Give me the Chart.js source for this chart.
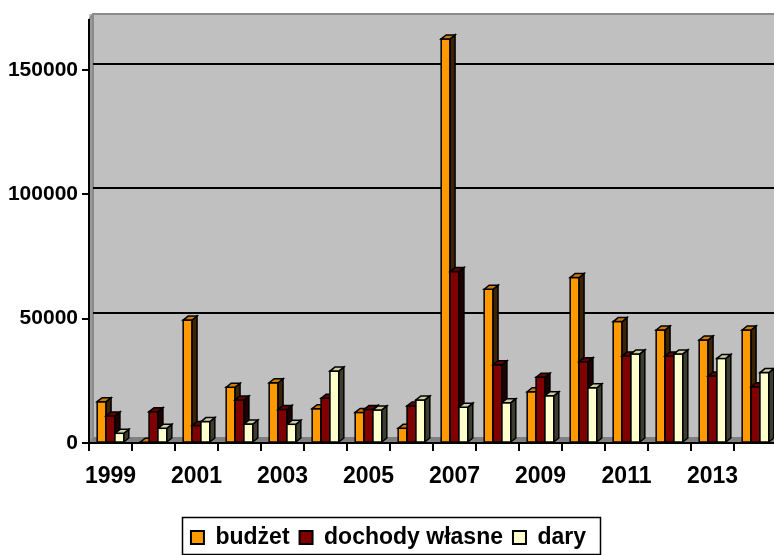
<!DOCTYPE html>
<html>
<head>
<meta charset="utf-8">
<script src="https://cdn.jsdelivr.net/npm/chart.js@4/dist/chart.umd.min.js"></script>
<style>
html,body{margin:0;padding:0;background:#fff;overflow:hidden;}
canvas{display:block;}
</style>
</head>
<body>
<canvas id="c" width="780" height="559" style="width:780px;height:559px"></canvas>
<script>
const categories = ['1999','2000','2001','2002','2003','2004','2005','2006','2007','2008','2009','2010','2011','2012','2013','2014'];
const budzet  = [16600, 300, 49400, 22400, 24200, 13800, 12300, 5900, 162400, 61800, 20600, 66500, 48800, 45400, 41400, 45400];
const dochody = [10900, 12600, 7000, 17300, 13500, 18000, 13500, 14900, 68900, 31400, 26400, 32700, 35000, 35000, 26900, 22600];
const dary    = [3900, 5900, 8600, 7600, 7500, 28900, 13300, 17300, 14400, 16200, 19000, 22200, 35800, 35800, 34000, 28300];
const yTicks  = [0, 50000, 100000, 150000];
const seriesNames = ['budżet', 'dochody własne', 'dary'];

const fronts = ['#FF9900', '#800000', '#FFFFCC'];
const tops   = ['#CC7A00', '#660000', '#CCCCA3'];
const sides  = ['#3D2400', '#1F0000', '#3D3D30'];

const WDX = 4, WDY = 6;   // wall depth
const BDX = 5, BDY = 4;   // bar depth
const FONT = "'Liberation Sans', Arial, sans-serif";

const threeD = {
  id: 'threeD',
  beforeDraw(chart) {
    const {ctx, chartArea: a} = chart;
    ctx.save();
    ctx.fillStyle = '#C0C0C0';
    ctx.fillRect(a.left, a.top - WDY, chart.width - a.left, a.bottom - a.top + WDY);
    ctx.fillStyle = '#9A9A9A';
    ctx.beginPath();
    ctx.moveTo(a.left, a.top);
    ctx.lineTo(a.left + WDX, a.top - WDY);
    ctx.lineTo(a.left + WDX, a.bottom - WDY);
    ctx.lineTo(a.left, a.bottom);
    ctx.closePath();
    ctx.fill();
    ctx.fillStyle = '#808080';
    ctx.beginPath();
    ctx.moveTo(a.left, a.bottom);
    ctx.lineTo(a.left + WDX, a.bottom - WDY);
    ctx.lineTo(chart.width, a.bottom - WDY);
    ctx.lineTo(chart.width, a.bottom);
    ctx.closePath();
    ctx.fill();
    ctx.strokeStyle = '#8A8A8A';
    ctx.lineWidth = 2;
    ctx.beginPath();
    ctx.moveTo(a.left, a.top);
    ctx.lineTo(a.left + WDX, a.top - WDY);
    ctx.lineTo(chart.width, a.top - WDY);
    ctx.stroke();
    ctx.beginPath();
    ctx.moveTo(a.left + WDX, a.top - WDY);
    ctx.lineTo(a.left + WDX, a.bottom - WDY);
    ctx.stroke();
    ctx.restore();
  },
  beforeDatasetsDraw(chart) {
    const {ctx, chartArea: a, scales: {y}} = chart;
    ctx.save();
    ctx.strokeStyle = '#000';
    ctx.lineWidth = 2;
    yTicks.forEach(v => {
      if (v === 0) return;
      const py = Math.round(y.getPixelForValue(v) - WDY);
      ctx.beginPath();
      ctx.moveTo(a.left + WDX, py);
      ctx.lineTo(chart.width, py);
      ctx.stroke();
    });
    ctx.restore();
  },
  afterDatasetsDraw(chart) {
    const ctx = chart.ctx;
    ctx.save();
    ctx.lineJoin = 'miter';
    ctx.strokeStyle = '#000';
    ctx.lineWidth = 1.5;
    const n = chart.data.labels.length;
    for (let i = 0; i < n; i++) {
      for (let d = 0; d < chart.data.datasets.length; d++) {
        const el = chart.getDatasetMeta(d).data[i];
        const {x, y, base, width} = el.getProps(['x', 'y', 'base', 'width'], true);
        const xl = x - width / 2, xr = x + width / 2;
        ctx.fillStyle = fronts[d];
        ctx.fillRect(xl, y, width, base - y);
        ctx.strokeRect(xl, y, width, base - y);
        ctx.fillStyle = sides[d];
        ctx.beginPath();
        ctx.moveTo(xr, y);
        ctx.lineTo(xr + BDX, y - BDY);
        ctx.lineTo(xr + BDX, base - BDY);
        ctx.lineTo(xr, base);
        ctx.closePath();
        ctx.fill(); ctx.stroke();
        ctx.fillStyle = tops[d];
        ctx.beginPath();
        ctx.moveTo(xl, y);
        ctx.lineTo(xl + BDX, y - BDY);
        ctx.lineTo(xr + BDX, y - BDY);
        ctx.lineTo(xr, y);
        ctx.closePath();
        ctx.fill(); ctx.stroke();
      }
    }
    ctx.restore();
  },
  afterDraw(chart) {
    const lg = chart.legend;
    if (!lg || !lg.legendHitBoxes || !lg.legendHitBoxes.length) return;
    const hb = lg.legendHitBoxes;
    const left = Math.min(...hb.map(h => h.left)) - 9;
    const right = Math.max(...hb.map(h => h.left + h.width)) + 14;
    const cy = hb[0].top + hb[0].height / 2;
    const ctx = chart.ctx;
    ctx.save();
    ctx.strokeStyle = '#000';
    ctx.lineWidth = 1.5;
    ctx.strokeRect(Math.round(left) + 0.5, Math.round(cy - 21) + 0.5, Math.round(right - left), 37);
    ctx.restore();
  }
};

new Chart(document.getElementById('c'), {
  type: 'bar',
  data: {
    labels: categories,
    datasets: [
      {label: seriesNames[0], data: budzet,  backgroundColor: fronts[0], borderColor: '#000', borderWidth: 2},
      {label: seriesNames[1], data: dochody, backgroundColor: fronts[1], borderColor: '#000', borderWidth: 2},
      {label: seriesNames[2], data: dary,    backgroundColor: fronts[2], borderColor: '#000', borderWidth: 2}
    ]
  },
  options: {
    responsive: false,
    animation: false,
    events: [],
    datasets: {bar: {barPercentage: 1.0, categoryPercentage: 0.62}},
    layout: {padding: {top: 20, right: 3, bottom: 0, left: 0}},
    plugins: {
      tooltip: {enabled: false},
      legend: {
        position: 'bottom',
        labels: {
          color: '#000',
          font: {family: FONT, size: 23, weight: 'bold'},
          boxWidth: 13, boxHeight: 13,
          padding: 10
        }
      }
    },
    scales: {
      x: {
        grid: {offset: true, drawOnChartArea: false, drawTicks: true, tickLength: 8, color: '#000', lineWidth: 2},
        border: {display: true, color: '#000', width: 2},
        ticks: {
          autoSkip: false, maxRotation: 0, minRotation: 0, padding: 12,
          color: '#000', font: {family: FONT, size: 23, weight: 'bold'},
          callback: function(v, i) { return i % 2 === 0 ? this.getLabelForValue(v) : ''; }
        },
        afterFit(s) { s.height = 73; }
      },
      y: {
        min: 0, max: 170000,
        afterBuildTicks(s) { s.ticks = yTicks.map(v => ({value: v})); },
        afterFit(s) { s.width = 89; },
        grid: {drawOnChartArea: false, drawTicks: true, tickLength: 7, color: '#000', lineWidth: 2},
        border: {display: true, color: '#000', width: 2},
        ticks: {padding: 4, color: '#000', font: {family: FONT, size: 21, weight: 'bold'},
          callback: v => String(v)}
      }
    }
  },
  plugins: [threeD]
});
</script>
</body>
</html>
